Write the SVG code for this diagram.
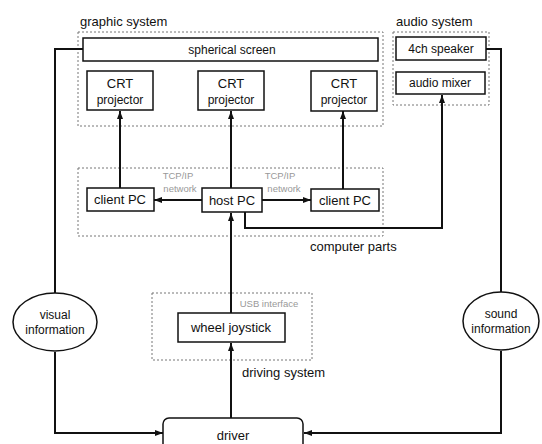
<svg xmlns="http://www.w3.org/2000/svg" width="542" height="444" viewBox="0 0 542 444">
<style>
.grp{fill:none;stroke:#777;stroke-width:1;stroke-dasharray:2,2}
.box{fill:#fff;stroke:#111;stroke-width:1.5}
.t{font-family:"Liberation Sans",Arial,sans-serif;font-size:12px;fill:#111;text-anchor:middle}
.lbl{font-family:"Liberation Sans",Arial,sans-serif;font-size:13px;fill:#111}
.sm{font-family:"Liberation Sans",Arial,sans-serif;font-size:9.5px;fill:#999;text-anchor:middle}
.c{fill:none;stroke:#111;stroke-width:2}
</style>
<defs>
<marker id="ah" markerUnits="userSpaceOnUse" markerWidth="8" markerHeight="6" refX="8" refY="3" orient="auto">
<path d="M0,0 L8,3 L0,6 z" fill="#111"/>
</marker>
</defs>
<rect width="542" height="444" fill="#fff"/>
<g id="groups">
<rect class="grp" x="78" y="32" width="305" height="94"/>
<text class="lbl" x="80" y="26">graphic system</text>
<rect class="grp" x="393" y="32" width="96" height="73"/>
<text class="lbl" x="396" y="26">audio system</text>
<rect class="grp" x="78" y="168" width="305" height="68"/>
<text class="lbl" x="310" y="251">computer parts</text>
<rect class="grp" x="152" y="293" width="160" height="67"/>
<text class="lbl" x="242" y="377">driving system</text>
</g>
<g id="connectors">
<line class="c" x1="120" y1="188" x2="120" y2="111" marker-end="url(#ah)"/>
<line class="c" x1="231" y1="188" x2="231" y2="111" marker-end="url(#ah)"/>
<line class="c" x1="343" y1="189" x2="343" y2="111" marker-end="url(#ah)"/>
<line class="c" x1="202" y1="200" x2="154" y2="200" marker-end="url(#ah)"/>
<line class="c" x1="262" y1="200" x2="311" y2="200" marker-end="url(#ah)"/>
<polyline class="c" points="245,212 245,228 442,228 442,95" marker-end="url(#ah)"/>
<line class="c" x1="231" y1="313" x2="231" y2="213" marker-end="url(#ah)"/>
<line class="c" x1="231" y1="418" x2="231" y2="343" marker-end="url(#ah)"/>
<polyline class="c" points="83,49 55,49 55,293"/>
<polyline class="c" points="55,352 55,433 163,433" marker-end="url(#ah)"/>
<polyline class="c" points="486,49 501,49 501,292"/>
<polyline class="c" points="501,351 501,433 304,433" marker-end="url(#ah)"/>
<text class="sm" x="178" y="179">TCP/IP</text>
<text class="sm" x="180" y="192">network</text>
<text class="sm" x="280" y="179">TCP/IP</text>
<text class="sm" x="284" y="192">network</text>
<text class="sm" x="269" y="307">USB interface</text>
</g>
<g id="screen">
<rect class="box" x="83" y="38" width="295" height="23"/>
<text class="t" x="232" y="54">spherical screen</text>
</g>
<g id="crt1">
<rect class="box" x="87" y="71" width="66" height="39"/>
<text class="t" x="120" y="88" style="font-size:13px">CRT</text>
<text class="t" x="120" y="104">projector</text>
</g>
<g id="crt2">
<rect class="box" x="198" y="71" width="66" height="39"/>
<text class="t" x="231" y="88" style="font-size:13px">CRT</text>
<text class="t" x="231" y="104">projector</text>
</g>
<g id="crt3">
<rect class="box" x="311" y="71" width="66" height="40"/>
<text class="t" x="344" y="88" style="font-size:13px">CRT</text>
<text class="t" x="344" y="104">projector</text>
</g>
<g id="speaker">
<rect class="box" x="396" y="37" width="90" height="23"/>
<text class="t" x="441" y="53">4ch speaker</text>
</g>
<g id="mixer">
<rect class="box" x="396" y="72" width="89" height="22"/>
<text class="t" x="440" y="87">audio mixer</text>
</g>
<g id="client1">
<rect class="box" x="87" y="188" width="67" height="23"/>
<text class="t" x="120" y="204" style="font-size:13px">client PC</text>
</g>
<g id="host">
<rect class="box" x="202" y="188" width="60" height="24"/>
<text class="t" x="232" y="205" style="font-size:13px">host PC</text>
</g>
<g id="client2">
<rect class="box" x="311" y="189" width="68" height="22"/>
<text class="t" x="345" y="205" style="font-size:13px">client PC</text>
</g>
<g id="joystick">
<rect class="box" x="178" y="313" width="107" height="29"/>
<text class="t" x="231" y="332" style="font-size:13px">wheel joystick</text>
</g>
<g id="visual">
<ellipse class="box" cx="55" cy="322" rx="42" ry="29"/>
<text class="t" x="55" y="319">visual</text>
<text class="t" x="55" y="334">information</text>
</g>
<g id="sound">
<ellipse class="box" cx="501" cy="321" rx="38" ry="29"/>
<text class="t" x="501" y="318">sound</text>
<text class="t" x="501" y="333">information</text>
</g>
<g id="driver">
<rect class="box" x="163" y="418" width="140" height="40" rx="6"/>
<text class="t" x="233" y="440" style="font-size:13px">driver</text>
</g>
</svg>
